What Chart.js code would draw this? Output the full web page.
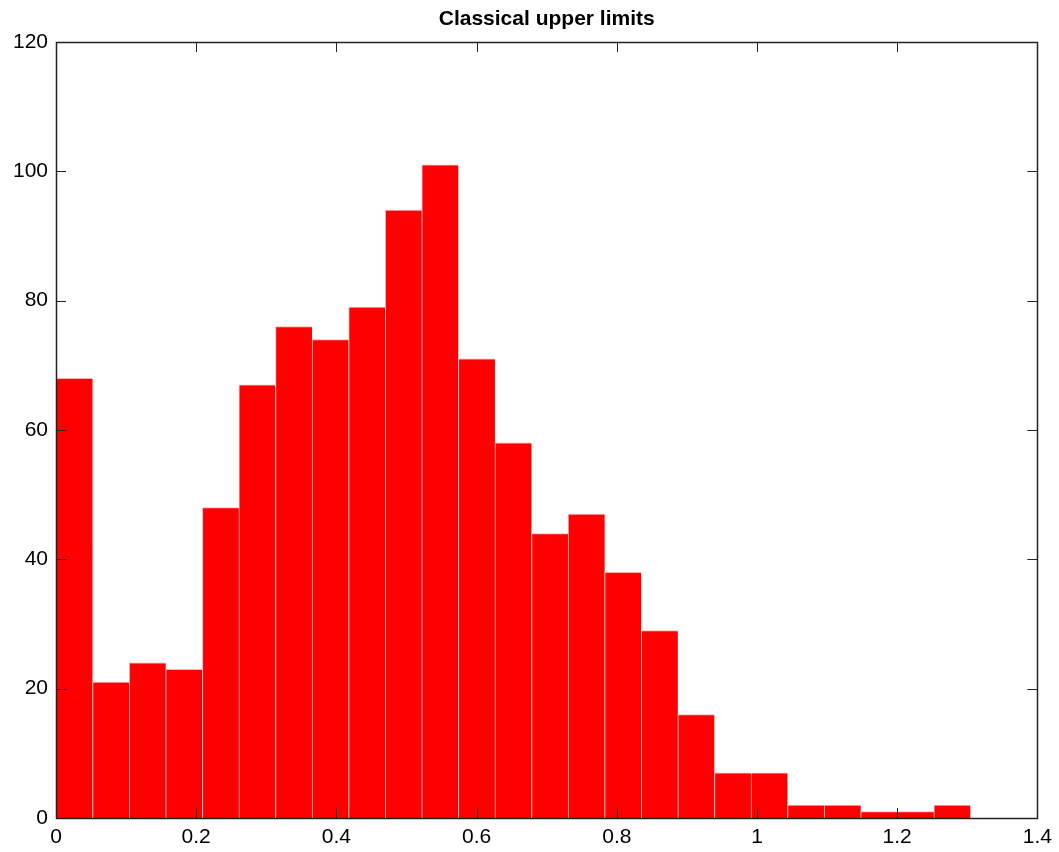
<!DOCTYPE html>
<html>
<head>
<meta charset="utf-8">
<script src="https://cdn.jsdelivr.net/npm/chart.js@4"></script>
<style>
  html, body { margin: 0; padding: 0; background: #fff; }
  #wrap { width: 1059px; height: 852px; }
</style>
</head>
<body>
<div id="wrap"><canvas id="hist"></canvas></div>
<script>
// histogram bins (centres) and counts
const binCenters = [0.0261, 0.0783, 0.1305, 0.1827, 0.2349, 0.2870, 0.3392, 0.3914, 0.4436, 0.4958,
                    0.5479, 0.6001, 0.6523, 0.7045, 0.7566, 0.8088, 0.8610, 0.9132, 0.9654, 1.0175,
                    1.0697, 1.1219, 1.1741, 1.2263, 1.2784];
const counts = [68, 21, 24, 23, 48, 67, 76, 74, 79, 94, 101, 71, 58, 44, 47, 38, 29, 16, 7, 7, 2, 2, 1, 1, 2];
const xTicks = [0, 0.2, 0.4, 0.6, 0.8, 1, 1.2, 1.4];
const yTicks = [0, 20, 40, 60, 80, 100, 120];
const title = 'Classical upper limits';

const FONT = '"Liberation Sans", Arial, Helvetica, sans-serif';

// matlab style box: frame + inward ticks on all four sides, plus the title
const matlabBox = {
  id: 'matlabBox',
  afterDraw(chart) {
    const { ctx, chartArea: a, scales: { x, y } } = chart;
    const len = 10;
    ctx.save();
    ctx.strokeStyle = '#222';
    ctx.lineWidth = 1;
    ctx.beginPath();
    xTicks.forEach(v => {
      const px = Math.round(x.getPixelForValue(v)) + 0.5;
      ctx.moveTo(px, a.bottom); ctx.lineTo(px, a.bottom - len);
      ctx.moveTo(px, a.top); ctx.lineTo(px, a.top + len);
    });
    yTicks.forEach(v => {
      const py = Math.round(y.getPixelForValue(v)) + 0.5;
      ctx.moveTo(a.left, py); ctx.lineTo(a.left + len, py);
      ctx.moveTo(a.right, py); ctx.lineTo(a.right - len, py);
    });
    ctx.stroke();
    ctx.lineWidth = 1.5;
    ctx.strokeRect(Math.round(a.left) + 0.5, Math.round(a.top) + 0.5,
                   Math.round(a.right - a.left), Math.round(a.bottom - a.top));
    ctx.fillStyle = '#000';
    ctx.font = 'bold 21px ' + FONT;
    ctx.textAlign = 'center';
    ctx.textBaseline = 'alphabetic';
    ctx.fillText(title, (a.left + a.right) / 2, 25);
    ctx.restore();
  }
};

new Chart(document.getElementById('hist'), {
  type: 'bar',
  data: {
    datasets: [{
      data: binCenters.map((c, i) => ({ x: c, y: counts[i] })),
      backgroundColor: '#ff0000',
      borderColor: '#ffb4b4',
      borderWidth: { top: 1, left: 1, right: 0, bottom: 0 },
      borderSkipped: false,
      barPercentage: 1,
      categoryPercentage: 1
    }]
  },
  options: {
    responsive: true,
    maintainAspectRatio: false,
    animation: false,
    layout: { padding: { top: 42, right: 20, left: 0, bottom: 0 } },
    plugins: { legend: { display: false }, tooltip: { enabled: false }, title: { display: false } },
    scales: {
      x: {
        type: 'linear',
        min: 0, max: 1.4,
        offset: false,
        grid: { display: false, drawTicks: false },
        border: { display: false },
        afterBuildTicks: s => { s.ticks = xTicks.map(v => ({ value: v })); },
        afterFit: s => { s.height = 34; },
        ticks: { color: '#000', font: { family: FONT, size: 21 }, padding: 7, maxRotation: 0,
                 callback: v => String(v) }
      },
      y: {
        min: 0, max: 120,
        grid: { display: false, drawTicks: false },
        border: { display: false },
        afterBuildTicks: s => { s.ticks = yTicks.map(v => ({ value: v })); },
        afterFit: s => { s.width = 56; },
        ticks: { color: '#000', font: { family: FONT, size: 21 }, padding: 8 }
      }
    }
  },
  plugins: [matlabBox]
});
</script>
</body>
</html>
